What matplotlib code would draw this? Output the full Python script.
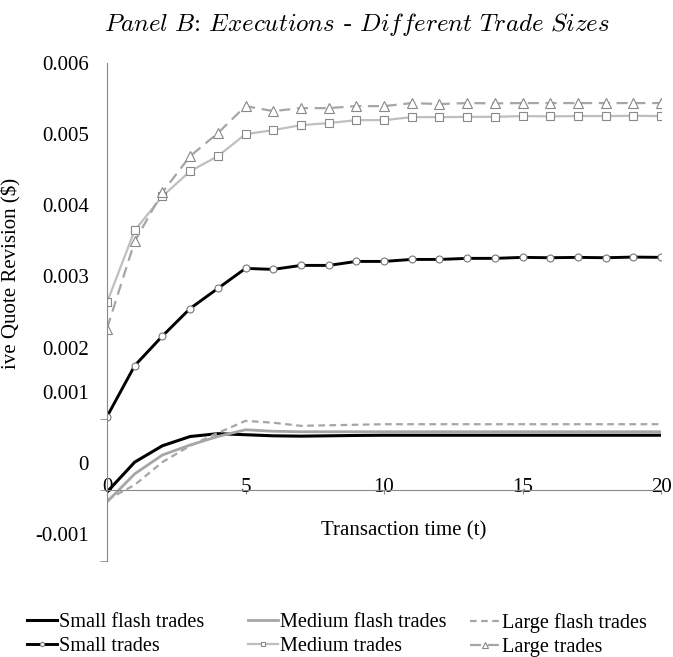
import matplotlib
matplotlib.use("Agg")
import matplotlib.pyplot as plt
import numpy as np

t = np.arange(0, 21)

# values in $
small_flash = [-0.00003, 0.00039, 0.00062, 0.00075, 0.00079, 0.000775, 0.00076, 0.000755, 0.00076,
               0.000765, 0.000768, 0.000768, 0.000768, 0.000768, 0.000768, 0.000768, 0.000768,
               0.000768, 0.000768, 0.000768, 0.000768]
medium_flash = [-0.00017, 0.000225, 0.00049, 0.00063, 0.00075, 0.000845, 0.000824, 0.000817, 0.000817,
                0.000817, 0.000817, 0.000817, 0.000817, 0.000817, 0.000817, 0.000817, 0.000817,
                0.000817, 0.000817, 0.000817, 0.000817]
large_flash = [-0.00014, 0.00007, 0.00039, 0.00062, 0.0008, 0.00097, 0.000944, 0.0009, 0.000908,
               0.000915, 0.000923, 0.000923, 0.000923, 0.000923, 0.000923, 0.000923, 0.000923,
               0.000923, 0.000923, 0.000923, 0.000923]
small_trades = [0.00103, 0.001746, 0.002162, 0.002549, 0.002831, 0.003113, 0.003099, 0.003155,
                0.003155, 0.003211, 0.003211, 0.003239, 0.003239, 0.003254, 0.003254, 0.003268,
                0.003263, 0.003268, 0.003263, 0.003272, 0.003268]
medium_trades = [0.002634, 0.003648, 0.004127, 0.004479, 0.00469, 0.005, 0.005056, 0.005127,
                 0.005155, 0.005197, 0.005197, 0.005239, 0.005239, 0.005243, 0.005243, 0.005254,
                 0.00525, 0.005254, 0.005254, 0.005258, 0.005254]
large_trades = [0.002268, 0.003493, 0.004183, 0.00469, 0.005014, 0.005394, 0.005324, 0.005366,
                0.005366, 0.005394, 0.005394, 0.005437, 0.005423, 0.005437, 0.005433, 0.005437,
                0.005437, 0.005437, 0.005437, 0.005437, 0.005437]

x_ticks = [0, 5, 10, 15, 20]
y_ticks = [0.006, 0.005, 0.004, 0.003, 0.002, 0.001, 0.0, -0.001]
y_tick_labels = ['0.006', '0.005', '0.004', '0.003', '0.002', '0.001', '0', '-0.001']

plt.rcParams['font.family'] = 'Liberation Serif'
plt.rcParams['font.size'] = 15
plt.rcParams['mathtext.fontset'] = 'cm'

fig = plt.figure(figsize=(6.73, 6.57), dpi=100)
ax = fig.add_axes([0.159, 0.1461, 0.8232, 0.758])

ax.plot(t, small_flash, color='black', lw=2.2, label='Small flash trades')
ax.plot(t, medium_flash, color='#a6a6a6', lw=2, label='Medium flash trades')
ax.plot(t, large_flash, color='#a6a6a6', lw=1.6, ls=(0, (3, 2)), label='Large flash trades')
ax.plot(t, small_trades, color='black', lw=2.1, marker='o', ms=5, mfc='white', mec='#777777',
        mew=0.8, label='Small trades')
ax.plot(t, medium_trades, color='#bfbfbf', lw=1.6, marker='s', ms=5.5, mfc='white', mec='#888888',
        mew=0.8, label='Medium trades')
ax.plot(t, large_trades, color='#a6a6a6', lw=1.6, ls=(0, (5, 3)), marker='^', ms=6.5, mfc='white',
        mec='#888888', mew=0.8, label='Large trades')

ax.set_xlim(0, 20)
ax.set_ylim(-0.001, 0.006)

for s in ['top', 'right']:
    ax.spines[s].set_visible(False)
ax.spines['bottom'].set_position(('data', 0))
ax.spines['left'].set_color('#888888')
ax.spines['bottom'].set_color('#888888')

ax.set_xticks(x_ticks)
ax.set_xticklabels([str(v) for v in x_ticks])
ax.tick_params(axis='x', direction='out', length=3, color='#888888', pad=-4.5)
for lbl in ax.get_xticklabels():
    lbl.set_verticalalignment('center')

# tick marks at the true values, labels as they sit in the original (lower three shifted up)
label_shift = 0.00038
label_pos = [v + (label_shift if v < 0.0015 else 0) for v in y_ticks]
ax.set_yticks(y_ticks, minor=True)
ax.set_yticks(label_pos)
ax.set_yticklabels(y_tick_labels)
ax.tick_params(axis='y', which='major', length=0, pad=13)
ax.tick_params(axis='y', which='minor', direction='out', length=5, color='#888888')

ax.set_xlabel('Transaction time (t)')
ax.xaxis.set_label_coords(0.536, 0.08)
ax.set_ylabel('ive Quote Revision ($)')
ax.yaxis.set_label_coords(-0.155, 0.578)

fig.text(0.53, 0.962,
         r'$\mathit{Panel\ B}$: $\mathit{Executions}$ - $\mathit{Different\ Trade\ Sizes}$',
         family='cmr10', fontsize=18, ha='center', va='center')

h, l = ax.get_legend_handles_labels()
col_x = [27, 248, 470]
for i, x0 in enumerate(col_x):
    fig.legend([h[i], h[i + 3]], [l[i], l[i + 3]], loc='upper left',
               bbox_to_anchor=(x0 / 673, 1 - 613 / 657), frameon=False, fontsize=14.6,
               handlelength=1.5, handletextpad=0.1, labelspacing=0.25,
               borderpad=0, borderaxespad=0, markerscale=0.6)

fig.savefig('out.png', dpi=100)
